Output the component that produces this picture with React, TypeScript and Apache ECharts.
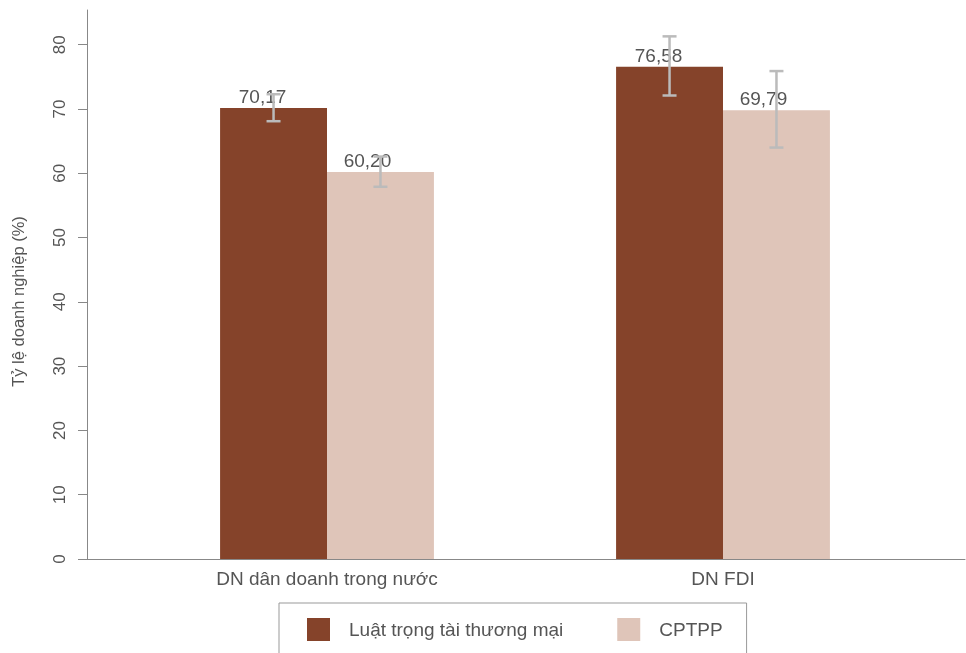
import React, { useEffect, useRef } from "react";
import * as echarts from "echarts";

const categories = ["DN dân doanh trong nước", "DN FDI"];
const seriesNames = ["Luật trọng tài thương mại", "CPTPP"];
const lawValues = [70.17, 76.58];
const cptppValues = [60.2, 69.79];
const lawErrLow = [68.1, 72.1];
const lawErrHigh = [72.3, 81.3];
const cptppErrLow = [57.9, 64.0];
const cptppErrHigh = [62.6, 75.9];
const yTicks = [0, 10, 20, 30, 40, 50, 60, 70, 80];

const BROWN = "#85432a";
const PINK = "#dfc5b9";
const TEXT = "#555555";
const FONT = "Liberation Sans, Arial, Helvetica, sans-serif";
const YMAX = 85.4;
const BAR_FRAC = 0.27;

function fmt(v: number) {
  return v.toFixed(2).replace(".", ",");
}

export default function App() {
  const ref = useRef<HTMLDivElement>(null);
  useEffect(() => {
    if (!ref.current) return;
    const chart = echarts.init(ref.current, null, { renderer: "svg" });
    const errData: number[][] = [];
    categories.forEach((_, i) => {
      errData.push([i, lawErrLow[i], lawErrHigh[i], -1]);
      errData.push([i, cptppErrLow[i], cptppErrHigh[i], 1]);
    });
    chart.setOption({
      animation: false,
      textStyle: { fontFamily: FONT },
      grid: [
        { left: 129, right: 45, top: 10, bottom: 94, outerBoundsMode: "none", containLabel: false },
        { left: 87, right: 1, top: 10, bottom: 94, outerBoundsMode: "none", containLabel: false },
      ],
      xAxis: [
        {
          type: "category",
          gridIndex: 0,
          data: categories,
          axisLine: { show: false },
          axisTick: { show: false },
          axisLabel: { color: TEXT, fontSize: 19, margin: 10, fontFamily: FONT },
        },
        {
          type: "value",
          gridIndex: 1,
          min: 0,
          max: 1,
          axisLine: { show: true, lineStyle: { color: "#888888", width: 1 } },
          axisTick: { show: false },
          axisLabel: { show: false },
          splitLine: { show: false },
        },
      ],
      yAxis: [
        {
          type: "value",
          gridIndex: 0,
          min: 0,
          max: YMAX,
          show: false,
          splitLine: { show: false },
        },
        {
          type: "value",
          gridIndex: 1,
          min: 0,
          max: YMAX,
          name: "Tỷ lệ doanh nghiệp (%)",
          nameLocation: "middle",
          nameGap: 61,
          nameTextStyle: {
            color: TEXT,
            fontSize: 16.5,
            fontFamily: FONT,
            padding: [0, 34, 0, 0],
          },
          axisLine: { show: true, lineStyle: { color: "#888888", width: 1 } },
          axisTick: {
            show: true,
            length: 9,
            customValues: yTicks,
            lineStyle: { color: "#888888" },
          },
          axisLabel: {
            customValues: yTicks,
            rotate: 90,
            color: TEXT,
            fontSize: 17,
            margin: 19,
            fontFamily: FONT,
          },
          splitLine: { show: false },
        },
      ],
      legend: {
        bottom: -3,
        left: 279,
        data: seriesNames,
        itemWidth: 23,
        itemHeight: 23,
        itemGap: 54,
        padding: [15, 24, 15, 28],
        borderColor: "#999999",
        borderWidth: 1,
        icon: "rect",
        textStyle: { color: TEXT, fontSize: 19, fontFamily: FONT, padding: [0, 0, 0, 14] },
      },
      series: [
        {
          name: seriesNames[0],
          type: "bar",
          xAxisIndex: 0,
          yAxisIndex: 0,
          data: lawValues,
          barWidth: BAR_FRAC * 100 + "%",
          barGap: "0%",
          itemStyle: { color: BROWN },
          label: {
            show: true,
            position: "top",
            distance: 2,
            offset: [-11, 0],
            formatter: (p: any) => fmt(p.value),
            color: TEXT,
            fontSize: 19,
            fontFamily: FONT,
          },
        },
        {
          name: seriesNames[1],
          type: "bar",
          xAxisIndex: 0,
          yAxisIndex: 0,
          data: cptppValues,
          barWidth: BAR_FRAC * 100 + "%",
          barGap: "0%",
          itemStyle: { color: PINK },
          label: {
            show: true,
            position: "top",
            distance: 2,
            offset: [-13, 0],
            formatter: (p: any) => fmt(p.value),
            color: TEXT,
            fontSize: 19,
            fontFamily: FONT,
          },
        },
        {
          type: "custom",
          xAxisIndex: 0,
          yAxisIndex: 0,
          z: 5,
          silent: true,
          data: errData,
          renderItem: (params: any, api: any) => {
            const cat = api.value(0);
            const lo = api.value(1);
            const hi = api.value(2);
            const side = api.value(3);
            const band = api.size([1, 0])[0];
            const pLo = api.coord([cat, lo]);
            const pHi = api.coord([cat, hi]);
            const x = pLo[0] + side * band * BAR_FRAC / 2;
            const cap = 7;
            const style = { stroke: "#bbbbbb", lineWidth: 2.5, fill: "none" };
            return {
              type: "group",
              children: [
                { type: "line", shape: { x1: x, y1: pLo[1], x2: x, y2: pHi[1] }, style },
                { type: "line", shape: { x1: x - cap, y1: pLo[1], x2: x + cap, y2: pLo[1] }, style },
                { type: "line", shape: { x1: x - cap, y1: pHi[1], x2: x + cap, y2: pHi[1] }, style },
              ],
            };
          },
        },
      ],
    });
    return () => chart.dispose();
  }, []);
  return (
    <div
      ref={ref}
      style={{ position: "fixed", left: 0, top: 0, width: 966, height: 653 }}
    />
  );
}
